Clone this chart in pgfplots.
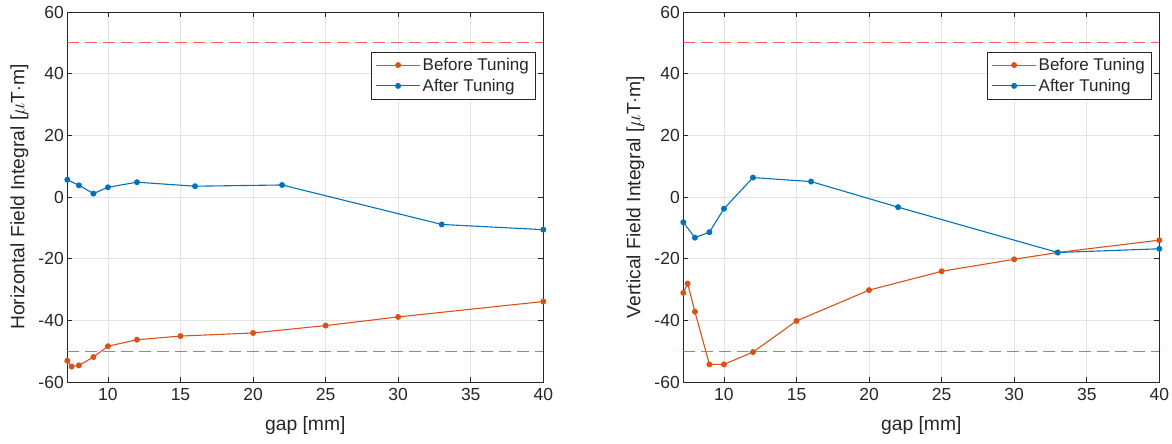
\documentclass[border=0pt]{standalone}
\usepackage{pgfplots}
\pgfplotsset{compat=1.18}
\usepackage{fontspec}
\setmainfont{Liberation Sans}
\definecolor{mlorange}{rgb}{0.85,0.325,0.098}
\definecolor{mlblue}{rgb}{0,0.447,0.741}
\definecolor{axgray}{HTML}{262626}
\definecolor{gridgray}{HTML}{E3E3E3}
\definecolor{limred}{RGB}{255,95,95}
\pgfplotsset{
  mlaxis/.style={
    scale only axis, width=476pt, height=370pt,
    xmin=7.2, xmax=40, ymin=-60, ymax=60,
    xtick={10,15,...,40}, ytick={-60,-40,...,60},
    grid=major, major grid style={gridgray, line width=0.6pt},
    axis line style={axgray, line width=0.7pt},
    tick style={axgray, line width=0.7pt},
    major tick length=5pt,
    tick align=inside, tick pos=both,
    /pgf/number format/assume math mode=true,
    ticklabel style={font=\fontsize{17.5}{20}\selectfont, text=axgray},
    xticklabel style={yshift=-3pt},
    label style={font=\fontsize{19.3}{22}\selectfont, text=axgray},
    xlabel style={at={(axis description cs:0.5,0)}, anchor=center, yshift=-44pt},
    ylabel style={at={(axis description cs:-0.1008,0.5)}, anchor=center},
    xlabel={gap [mm]},
    legend style={at={(0.9826,0.892)}, anchor=north east, draw=axgray,
      font=\fontsize{17}{20}\selectfont, text=axgray, cells={anchor=west},
      inner xsep=4pt, inner ysep=4pt, row sep=3pt},
    legend image code/.code={\draw[mark repeat=2,mark phase=2,##1,line width=1.1pt] plot coordinates {(0pt,0pt) (22pt,0pt) (44pt,0pt)};},
  },
  before/.style={mlorange, line width=1.1pt, mark=*, mark size=2.4pt, mark options={solid, fill=mlorange}},
  after/.style={mlblue, line width=1.1pt, mark=*, mark size=2.4pt, mark options={solid, fill=mlblue}},
  lim/.style={limred, dash pattern=on 12pt off 6pt, line width=1.3pt, forget plot, mark=none},
}
\begin{document}
\begin{tikzpicture}
\useasboundingbox (0,0) rectangle (1172pt,444pt);
\begin{axis}[mlaxis, at={(67.3pt,62pt)}, anchor=south west,
  ylabel={Horizontal Field Integral [$\mu$T$\cdot$m]}]
\addplot[lim] coordinates {(7.2,50) (40,50)};
\addplot[lim] coordinates {(7.2,-50) (40,-50)};
\addplot[before] coordinates {
(7.2,-53.1) (7.5,-55.0) (8,-54.6) (9,-51.9) (10,-48.4) (12,-46.3)
(15,-45.1) (20,-44.1) (25,-41.7) (30,-38.9) (40,-33.9)};
\addlegendentry{Before Tuning}
\addplot[after] coordinates {
(7.2,5.6) (8,3.8) (9,1.1) (10,3.15) (12,4.8) (16,3.5) (22,3.9) (33,-8.9) (40,-10.6)};
\addlegendentry{After Tuning}
\end{axis}
\begin{axis}[mlaxis, at={(683.3pt,62pt)}, anchor=south west,
  ylabel={Vertical Field Integral [$\mu$T$\cdot$m]}]
\addplot[lim] coordinates {(7.2,50) (40,50)};
\addplot[lim] coordinates {(7.2,-50) (40,-50)};
\addplot[before] coordinates {
(7.2,-31.1) (7.5,-28.1) (8,-37.2) (9,-54.3) (10,-54.3) (12,-50.3)
(15,-40.2) (20,-30.2) (25,-24.1) (30,-20.2) (33,-18.0) (40,-14.0)};
\addlegendentry{Before Tuning}
\addplot[after] coordinates {
(7.2,-8.2) (8,-13.2) (9,-11.4) (10,-3.8) (12,6.3) (16,5.0) (22,-3.3) (33,-18.0) (40,-16.8)};
\addlegendentry{After Tuning}
\end{axis}
\end{tikzpicture}
\end{document}
